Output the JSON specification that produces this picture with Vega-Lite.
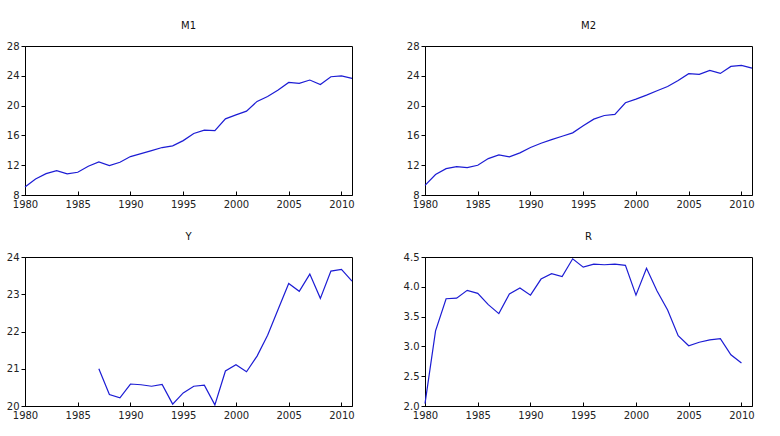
{
  "$schema": "https://vega.github.io/schema/vega-lite/v6.json",
  "background": "white",
  "padding": {"left": 2, "top": 20, "right": 0, "bottom": 0},
  "datasets": {
    "m1": [
      {"year": 1980, "value": 9.08}, {"year": 1981, "value": 10.15}, {"year": 1982, "value": 10.87},
      {"year": 1983, "value": 11.27}, {"year": 1984, "value": 10.83}, {"year": 1985, "value": 11.05},
      {"year": 1986, "value": 11.86}, {"year": 1987, "value": 12.44}, {"year": 1988, "value": 11.95},
      {"year": 1989, "value": 12.4}, {"year": 1990, "value": 13.16}, {"year": 1991, "value": 13.56},
      {"year": 1992, "value": 13.96}, {"year": 1993, "value": 14.37}, {"year": 1994, "value": 14.6},
      {"year": 1995, "value": 15.3}, {"year": 1996, "value": 16.25}, {"year": 1997, "value": 16.7},
      {"year": 1998, "value": 16.65}, {"year": 1999, "value": 18.22}, {"year": 2000, "value": 18.76},
      {"year": 2001, "value": 19.26}, {"year": 2002, "value": 20.56}, {"year": 2003, "value": 21.23},
      {"year": 2004, "value": 22.08}, {"year": 2005, "value": 23.11}, {"year": 2006, "value": 22.98},
      {"year": 2007, "value": 23.43}, {"year": 2008, "value": 22.84}, {"year": 2009, "value": 23.87},
      {"year": 2010, "value": 24.0}, {"year": 2011, "value": 23.65}
    ],
    "m2": [
      {"year": 1980, "value": 9.3}, {"year": 1981, "value": 10.74}, {"year": 1982, "value": 11.54},
      {"year": 1983, "value": 11.81}, {"year": 1984, "value": 11.68}, {"year": 1985, "value": 11.99},
      {"year": 1986, "value": 12.89}, {"year": 1987, "value": 13.38}, {"year": 1988, "value": 13.11},
      {"year": 1989, "value": 13.65}, {"year": 1990, "value": 14.37}, {"year": 1991, "value": 14.95},
      {"year": 1992, "value": 15.44}, {"year": 1993, "value": 15.89}, {"year": 1994, "value": 16.34},
      {"year": 1995, "value": 17.28}, {"year": 1996, "value": 18.18}, {"year": 1997, "value": 18.67},
      {"year": 1998, "value": 18.81}, {"year": 1999, "value": 20.38}, {"year": 2000, "value": 20.87},
      {"year": 2001, "value": 21.41}, {"year": 2002, "value": 21.99}, {"year": 2003, "value": 22.57},
      {"year": 2004, "value": 23.38}, {"year": 2005, "value": 24.28}, {"year": 2006, "value": 24.19},
      {"year": 2007, "value": 24.73}, {"year": 2008, "value": 24.32}, {"year": 2009, "value": 25.26},
      {"year": 2010, "value": 25.4}, {"year": 2011, "value": 25.04}
    ],
    "y": [
      {"year": 1987, "value": 21.0}, {"year": 1988, "value": 20.31}, {"year": 1989, "value": 20.22},
      {"year": 1990, "value": 20.59}, {"year": 1991, "value": 20.57}, {"year": 1992, "value": 20.53},
      {"year": 1993, "value": 20.58}, {"year": 1994, "value": 20.05}, {"year": 1995, "value": 20.35},
      {"year": 1996, "value": 20.53}, {"year": 1997, "value": 20.56}, {"year": 1998, "value": 20.03},
      {"year": 1999, "value": 20.94}, {"year": 2000, "value": 21.11}, {"year": 2001, "value": 20.92},
      {"year": 2002, "value": 21.34}, {"year": 2003, "value": 21.9}, {"year": 2004, "value": 22.6},
      {"year": 2005, "value": 23.29}, {"year": 2006, "value": 23.08}, {"year": 2007, "value": 23.54},
      {"year": 2008, "value": 22.89}, {"year": 2009, "value": 23.62}, {"year": 2010, "value": 23.67},
      {"year": 2011, "value": 23.35}
    ],
    "r": [
      {"year": 1980, "value": 2.04}, {"year": 1981, "value": 3.26}, {"year": 1982, "value": 3.8},
      {"year": 1983, "value": 3.81}, {"year": 1984, "value": 3.94}, {"year": 1985, "value": 3.89},
      {"year": 1986, "value": 3.7}, {"year": 1987, "value": 3.55}, {"year": 1988, "value": 3.88},
      {"year": 1989, "value": 3.98}, {"year": 1990, "value": 3.86}, {"year": 1991, "value": 4.13},
      {"year": 1992, "value": 4.22}, {"year": 1993, "value": 4.17}, {"year": 1994, "value": 4.47},
      {"year": 1995, "value": 4.33}, {"year": 1996, "value": 4.38}, {"year": 1997, "value": 4.37},
      {"year": 1998, "value": 4.38}, {"year": 1999, "value": 4.36}, {"year": 2000, "value": 3.86},
      {"year": 2001, "value": 4.31}, {"year": 2002, "value": 3.93}, {"year": 2003, "value": 3.61},
      {"year": 2004, "value": 3.18}, {"year": 2005, "value": 3.01}, {"year": 2006, "value": 3.07},
      {"year": 2007, "value": 3.11}, {"year": 2008, "value": 3.13}, {"year": 2009, "value": 2.86},
      {"year": 2010, "value": 2.72}
    ]
  },
  "columns": 2,
  "spacing": {"row": 21, "column": 47},
  "concat": [
    {
      "title": "M1",
      "width": 327, "height": 149,
      "data": {"name": "m1"},
      "mark": {"type": "line"},
      "encoding": {
        "x": {"field": "year", "type": "quantitative", "scale": {"domain": [1980, 2011], "nice": false, "zero": false}, "axis": {"title": null}},
        "y": {"field": "value", "type": "quantitative", "scale": {"domain": [8, 28], "nice": false, "zero": false}, "axis": {"title": null, "values": [8, 12, 16, 20, 24, 28]}}
      }
    },
    {
      "title": "M2",
      "width": 327, "height": 149,
      "data": {"name": "m2"},
      "mark": {"type": "line"},
      "encoding": {
        "x": {"field": "year", "type": "quantitative", "scale": {"domain": [1980, 2011], "nice": false, "zero": false}, "axis": {"title": null}},
        "y": {"field": "value", "type": "quantitative", "scale": {"domain": [8, 28], "nice": false, "zero": false}, "axis": {"title": null, "values": [8, 12, 16, 20, 24, 28]}}
      }
    },
    {
      "title": "Y",
      "width": 327, "height": 149,
      "data": {"name": "y"},
      "mark": {"type": "line"},
      "encoding": {
        "x": {"field": "year", "type": "quantitative", "scale": {"domain": [1980, 2011], "nice": false, "zero": false}, "axis": {"title": null}},
        "y": {"field": "value", "type": "quantitative", "scale": {"domain": [20, 24], "nice": false, "zero": false}, "axis": {"title": null, "values": [20, 21, 22, 23, 24]}}
      }
    },
    {
      "title": "R",
      "width": 327, "height": 149,
      "data": {"name": "r"},
      "mark": {"type": "line"},
      "encoding": {
        "x": {"field": "year", "type": "quantitative", "scale": {"domain": [1980, 2011], "nice": false, "zero": false}, "axis": {"title": null}},
        "y": {"field": "value", "type": "quantitative", "scale": {"domain": [2, 4.5], "nice": false, "zero": false}, "axis": {"title": null, "values": [2, 2.5, 3, 3.5, 4, 4.5], "format": ".1f"}}
      }
    }
  ],
  "config": {
    "view": {"stroke": "black", "strokeWidth": 1},
    "line": {"color": "#1c1cd4", "strokeWidth": 1.2},
    "title": {"font": "DejaVu Sans", "fontSize": 10, "fontWeight": "normal", "color": "#111", "offset": 10},
    "axis": {
      "grid": false,
      "domainColor": "black",
      "tickColor": "black",
      "labelColor": "#222",
      "labelFont": "DejaVu Sans",
      "labelFontSize": 10
    },
    "axisX": {
      "values": [1980, 1981, 1982, 1983, 1984, 1985, 1986, 1987, 1988, 1989, 1990, 1991, 1992, 1993, 1994, 1995, 1996, 1997, 1998, 1999, 2000, 2001, 2002, 2003, 2004, 2005, 2006, 2007, 2008, 2009, 2010, 2011],
      "format": "d",
      "labelExpr": "datum.value % 5 === 0 ? datum.label : ''",
      "labelFlush": false,
      "labelOverlap": false,
      "tickSize": -4,
      "labelPadding": 8
    },
    "axisY": {
      "tickSize": 4,
      "labelPadding": 2,
      "minExtent": 22,
      "maxExtent": 22
    }
  }
}
